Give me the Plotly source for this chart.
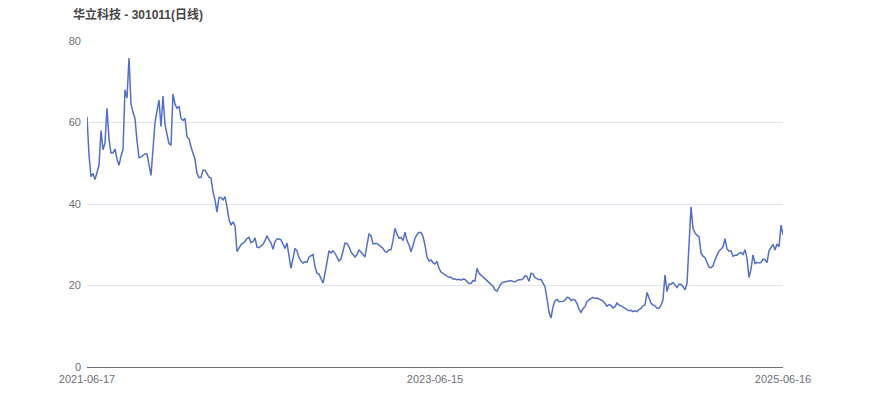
import plotly.graph_objects as go

title_text = "华立科技 - 301011(日线)"
tick_labels = ["2021-06-17", "2023-06-15", "2025-06-16"]

# closing prices, evenly spaced over the trading period
close_prices = [
    61.4, 52.0, 46.7, 47.5, 46.0, 47.8, 49.5, 58.0, 53.3, 55.0,
    63.5, 56.0, 52.5, 52.5, 53.5, 51.0, 49.5, 51.8, 53.3, 68.0,
    66.0, 75.8, 64.5, 62.5, 61.0, 55.5, 51.4, 51.5, 51.8, 52.3,
    52.3, 50.0, 47.0, 53.5, 60.0, 62.8, 65.5, 59.0, 66.5, 59.5,
    57.0, 54.8, 54.5, 67.0, 64.5, 63.5, 64.0, 61.0, 60.5, 61.0,
    56.5, 56.0, 54.0, 52.5, 51.0, 47.5, 46.5, 46.5, 48.3, 48.3,
    47.5, 46.6, 46.4, 43.0, 41.0, 38.0, 41.6, 41.6, 41.0, 41.8,
    39.3, 36.2, 34.8, 35.6, 34.6, 28.3, 29.2, 30.0, 30.4, 30.8,
    31.5, 31.8, 30.5, 30.8, 31.7, 29.4, 29.3, 29.6, 30.1, 31.0,
    32.2, 31.2, 30.4, 28.9, 30.8, 31.4, 31.4, 31.2, 30.1, 29.1,
    30.4, 27.0, 24.2, 26.6, 29.1, 28.5, 26.8, 26.0, 25.5, 25.8,
    25.7, 27.0, 27.2, 27.6, 24.6, 23.0, 22.8, 21.8, 20.6, 23.0,
    25.5, 28.5, 28.0, 28.5, 27.9, 26.8, 26.0, 26.5, 28.4, 30.4,
    30.3, 29.5, 28.2, 27.5, 27.0, 27.6, 28.7, 28.2, 27.5, 27.0,
    30.0, 32.6, 32.2, 30.2, 30.3, 30.3, 29.9, 29.4, 29.1, 28.3,
    28.2, 28.8, 28.8, 31.0, 34.0, 32.6, 31.6, 31.8, 31.0, 33.1,
    31.0, 30.0, 28.3, 29.8, 31.6, 32.5, 33.0, 33.0, 32.0, 29.9,
    27.0, 26.0, 26.3, 25.6, 25.3, 25.9, 24.2, 23.3, 22.9, 22.5,
    22.3, 22.0, 22.0, 21.6, 21.6, 21.4, 21.5, 21.3, 21.6, 21.5,
    21.0, 20.5, 20.5, 21.2, 21.1, 24.2, 23.0, 22.6, 22.2, 21.7,
    21.2, 20.7, 20.3, 19.8, 18.9, 18.6, 19.6, 20.4, 20.8, 20.9,
    21.1, 21.2, 21.2, 21.0, 20.9, 21.2, 21.4, 21.4, 21.7, 22.4,
    22.2, 21.0, 23.0, 22.8, 21.9, 21.7, 21.4, 21.5, 20.7, 19.7,
    16.8, 13.5, 12.0, 14.8, 16.2, 16.6, 16.0, 16.0, 16.1, 16.4,
    17.1, 17.0, 16.3, 16.6, 16.4, 15.6, 14.2, 13.4, 14.3, 14.8,
    16.1, 16.5, 16.9, 17.1, 16.8, 16.9, 16.7, 16.5, 16.2, 15.6,
    14.9, 15.3, 15.1, 14.5, 14.8, 15.7, 15.2, 15.0, 14.7, 14.2,
    14.1, 13.8, 13.9, 13.6, 13.8, 13.6, 14.1, 14.4, 15.0, 15.2,
    18.3, 16.9, 15.7, 15.2, 15.0, 14.4, 14.4, 15.2, 16.5, 22.6,
    18.5, 20.3, 20.3, 20.7, 20.1, 19.5, 20.3, 20.3, 19.7, 18.9,
    20.5, 32.0, 39.3, 34.0, 32.9, 32.3, 32.0, 28.0, 27.2, 26.8,
    25.8, 24.5, 24.4, 24.8, 26.3, 27.5, 28.5, 28.9, 29.5, 31.5,
    29.0, 28.4, 28.5, 27.2, 27.4, 27.4, 27.9, 28.1, 27.6, 28.8,
    26.6, 22.0, 24.0, 27.5, 25.4, 25.7, 25.5, 25.6, 26.5, 26.3,
    25.6, 28.5, 29.4, 30.1, 28.7, 30.2, 29.5, 34.8, 32.4,
]

n = len(close_prices)
x_idx = list(range(n))
tick_positions = [0, (n - 1) / 2, n - 1]

fig = go.Figure()
fig.add_trace(go.Scatter(
    x=x_idx, y=close_prices, mode="lines",
    line=dict(color="#5470c6", width=1.5),
    hoverinfo="skip", showlegend=False,
))

fig.update_layout(
    width=854, height=401,
    margin=dict(l=79, r=79, t=33, b=42),
    paper_bgcolor="white", plot_bgcolor="white",
    font=dict(family="Liberation Sans, Arial, Noto Sans CJK SC, sans-serif", color="#6e7079", size=11),
    title=dict(
        text="<b>" + title_text + "</b>",
        xref="container", yref="container",
        x=65 / 854, xanchor="left",
        y=1 - 3 / 401, yanchor="top", pad=dict(t=0, b=0, l=0, r=0),
        font=dict(size=12, color="#464646", family="Liberation Sans, Noto Sans CJK SC, sans-serif"),
    ),
    xaxis=dict(
        range=[0, n - 1], tickmode="array",
        tickvals=tick_positions, ticktext=tick_labels,
        showgrid=False, zeroline=False,
        showline=True, linecolor="#6e7079", linewidth=1,
        ticks="", ticklabelstandoff=2,
        tickfont=dict(size=11, color="#6e7079"),
    ),
    yaxis=dict(
        range=[0, 80], tickmode="array", tickvals=[0, 20, 40, 60, 80],
        showgrid=True, gridcolor="#e0e6f1", gridwidth=1,
        zeroline=False, showline=False, ticks="", ticklabelstandoff=5,
        tickfont=dict(size=11, color="#6e7079"),
    ),
)

fig.write_html("out.html")
